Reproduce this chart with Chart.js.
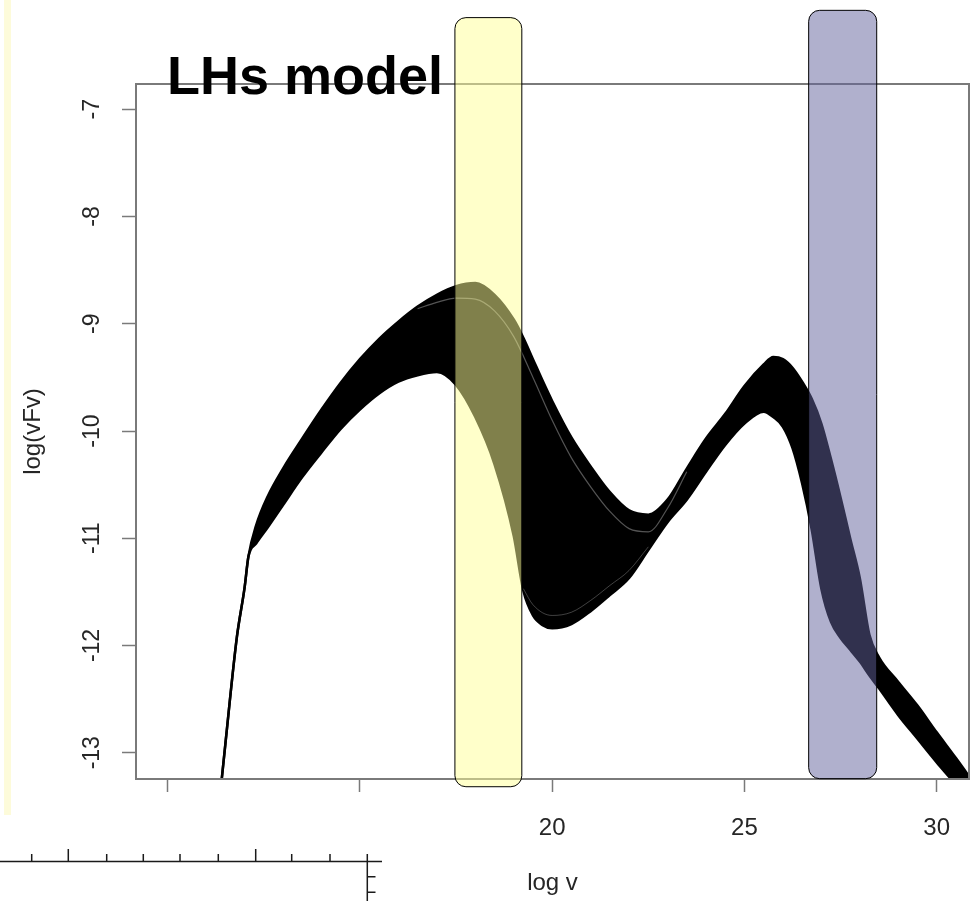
<!DOCTYPE html>
<html>
<head>
<meta charset="utf-8">
<script src="https://cdn.jsdelivr.net/npm/chart.js@4.4.1/dist/chart.umd.min.js"></script>
<style>
  html, body { margin: 0; padding: 0; background: #fff; }
</style>
</head>
<body>
<canvas id="sed" width="976" height="901"></canvas>
<script>
// log nu grid, shared by the upper and lower edge of the model band
var logNu = [11.35, 11.5, 11.8, 12.0, 12.1, 12.3, 12.6, 13.0, 13.5, 14.0, 14.5, 15.0, 15.5, 16.0, 16.5,
  17.0, 17.5, 18.0, 18.5, 19.0, 19.25, 19.5, 19.75, 20.0, 20.5, 21.0, 21.5, 22.0, 22.5, 23.0, 23.5, 24.0, 24.5,
  25.0, 25.5, 25.75, 26.0, 26.25, 26.5, 26.75, 27.0, 27.25, 27.5, 27.75, 28.0, 28.25, 28.5, 29.0, 29.5, 30.0, 30.5, 31.0];

// log(nu F nu), top edge of the bundle of curves
var upperFlux = [-13.44, -12.92, -11.92, -11.46, -11.17, -10.88, -10.61, -10.35, -10.07, -9.80, -9.55, -9.33, -9.14, -8.98, -8.84,
  -8.73, -8.65, -8.62, -8.73, -8.96, -9.13, -9.33, -9.53, -9.72, -10.06, -10.33, -10.57, -10.74, -10.78, -10.64, -10.35, -10.07, -9.84,
  -9.58, -9.38, -9.31, -9.33, -9.41, -9.54, -9.70, -9.93, -10.26, -10.62, -11.00, -11.37, -11.90, -12.11, -12.34, -12.56, -12.81, -13.05, -13.30];

// bottom edge of the bundle
var lowerFlux = [-13.44, -12.92, -11.92, -11.46, -11.17, -11.05, -10.90, -10.69, -10.43, -10.20, -9.98, -9.80, -9.65, -9.54, -9.48,
  -9.45, -9.57, -9.87, -10.31, -10.98, -11.49, -11.72, -11.81, -11.84, -11.80, -11.68, -11.53, -11.37, -11.11, -10.85, -10.64, -10.38, -10.13,
  -9.93, -9.82, -9.87, -9.96, -10.16, -10.49, -10.92, -11.47, -11.78, -11.93, -12.04, -12.15, -12.28, -12.40, -12.65, -12.87, -13.09, -13.30, -13.53];

// two of the single model curves that show as light streaks inside the band
var streakNu = [16.5, 17.0, 17.5, 18.0, 18.5, 19.0, 19.5, 20.0, 20.5, 21.0, 21.5, 22.0, 22.5, 23.0, 23.5];
var streakFlux = [-8.86, -8.80, -8.76, -8.77, -8.88, -9.12, -9.50, -9.90, -10.25, -10.52, -10.75, -10.91, -10.94, -10.72, -10.38];
var streak2Nu = [19.25, 19.5, 20.0, 20.5, 21.0, 21.5, 22.0, 22.5];
var streak2Flux = [-11.47, -11.62, -11.72, -11.69, -11.58, -11.44, -11.30, -11.08];

var xTickValues = [10, 15, 20, 25, 30];
var xTickLabels = ["", "", "20", "25", "30"];
var yTickValues = [-13, -12, -11, -10, -9, -8, -7];
var yTickLabels = ["-13", "-12", "-11", "-10", "-9", "-8", "-7"];

// highlighted frequency windows (log nu from / to, log flux top / bottom)
var bandFrom = [17.47, 26.67];
var bandTo = [19.21, 28.44];
var bandTop = [-6.145, -6.077];
var bandBottom = [-13.317, -13.242];

var plotTitle = "LHs model";

var FONT = '"Liberation Sans", Arial, Helvetica, sans-serif';
var bandFill = ["rgba(255,255,150,0.5)", "rgba(98,98,156,0.5)"];

function toPoints(xs, ys) {
  var pts = [];
  for (var i = 0; i < xs.length; i++) {
    pts.push({ x: xs[i], y: ys[i] });
  }
  return pts;
}

function roundedBox(ctx, x, y, w, h, r) {
  ctx.beginPath();
  ctx.moveTo(x + r, y);
  ctx.lineTo(x + w - r, y);
  ctx.arcTo(x + w, y, x + w, y + r, r);
  ctx.lineTo(x + w, y + h - r);
  ctx.arcTo(x + w, y + h, x + w - r, y + h, r);
  ctx.lineTo(x + r, y + h);
  ctx.arcTo(x, y + h, x, y + h - r, r);
  ctx.lineTo(x, y + r);
  ctx.arcTo(x, y, x + r, y, r);
  ctx.closePath();
}

var decorations = {
  id: "decorations",
  beforeDraw: function (chart) {
    var ctx = chart.ctx;
    ctx.save();
    ctx.fillStyle = "#ffffff";
    ctx.fillRect(0, 0, chart.width, chart.height);
    // pale strip along the left edge of the slide
    ctx.fillStyle = "#fdfbda";
    ctx.fillRect(4, 0, 7, 815);
    ctx.restore();
  },
  afterDraw: function (chart) {
    var ctx = chart.ctx;
    var a = chart.chartArea;
    var xs = chart.scales.x;
    var ys = chart.scales.y;
    ctx.save();

    // box round the plot
    ctx.strokeStyle = "#7a7a7a";
    ctx.lineWidth = 2;
    ctx.strokeRect(a.left, a.top, a.right - a.left, a.bottom - a.top);

    // y tick labels, turned like in R
    ctx.fillStyle = "#262626";
    ctx.font = "23px " + FONT;
    ctx.textAlign = "center";
    ctx.textBaseline = "middle";
    for (var i = 0; i < yTickValues.length; i++) {
      ctx.save();
      ctx.translate(93, ys.getPixelForValue(yTickValues[i]));
      ctx.rotate(-Math.PI / 2);
      ctx.fillText(yTickLabels[i], 0, 0);
      ctx.restore();
    }

    // title pasted over the frame
    ctx.fillStyle = "#000";
    ctx.font = "bold 54px " + FONT;
    ctx.textAlign = "left";
    ctx.textBaseline = "alphabetic";
    ctx.fillText(plotTitle, 167, 94);

    // piece of another plot's axis at the bottom left
    ctx.strokeStyle = "#1a1a1a";
    ctx.lineWidth = 1.5;
    ctx.beginPath();
    ctx.moveTo(0, 861.5);
    ctx.lineTo(382, 861.5);
    [68.3, 255.7].forEach(function (px) {
      ctx.moveTo(px, 849); ctx.lineTo(px, 861.5);
    });
    [31.7, 106.7, 143.3, 180, 218.3, 291.7, 330].forEach(function (px) {
      ctx.moveTo(px, 854); ctx.lineTo(px, 861.5);
    });
    ctx.moveTo(367.3, 854);
    ctx.lineTo(367.3, 901);
    ctx.moveTo(367.3, 876.7); ctx.lineTo(375.5, 876.7);
    ctx.moveTo(367.3, 892.3); ctx.lineTo(375.5, 892.3);
    ctx.stroke();

    // the two highlighted windows
    for (var b = 0; b < bandFrom.length; b++) {
      var x0 = xs.getPixelForValue(bandFrom[b]);
      var x1 = xs.getPixelForValue(bandTo[b]);
      var y0 = ys.getPixelForValue(bandTop[b]);
      var y1 = ys.getPixelForValue(bandBottom[b]);
      roundedBox(ctx, x0, y0, x1 - x0, y1 - y0, 11);
      ctx.fillStyle = bandFill[b];
      ctx.fill();
      ctx.strokeStyle = "#000";
      ctx.lineWidth = 1;
      ctx.stroke();
    }
    ctx.restore();
  }
};

var edgeStyle = {
  borderColor: "#000",
  borderWidth: 2.5,
  pointRadius: 0,
  cubicInterpolationMode: "monotone",
  clip: 0
};

new Chart(document.getElementById("sed"), {
  type: "line",
  data: {
    datasets: [
      Object.assign({}, edgeStyle, {
        label: "upper",
        data: toPoints(logNu, upperFlux),
        backgroundColor: "#000",
        fill: "+1"
      }),
      Object.assign({}, edgeStyle, {
        label: "lower",
        data: toPoints(logNu, lowerFlux),
        fill: false
      }),
      {
        label: "streak",
        order: -1,
        data: toPoints(streakNu, streakFlux),
        borderColor: "rgba(255,255,255,0.33)",
        borderWidth: 1.2,
        pointRadius: 0,
        cubicInterpolationMode: "monotone",
        fill: false
      },
      {
        label: "streak 2",
        order: -1,
        data: toPoints(streak2Nu, streak2Flux),
        borderColor: "rgba(255,255,255,0.25)",
        borderWidth: 1,
        pointRadius: 0,
        cubicInterpolationMode: "monotone",
        fill: false
      }
    ]
  },
  options: {
    responsive: false,
    animation: false,
    devicePixelRatio: 1,
    layout: { padding: { top: 84, right: 7, bottom: 0, left: 0 } },
    plugins: {
      legend: { display: false },
      tooltip: { enabled: false }
    },
    scales: {
      x: {
        type: "linear",
        min: 9.176,
        max: 30.84,
        afterBuildTicks: function (scale) {
          scale.ticks = xTickValues.map(function (v) { return { value: v }; });
        },
        afterFit: function (scale) { scale.height = 122; },
        border: { display: false },
        grid: { drawOnChartArea: false, drawTicks: true, tickLength: 13, tickColor: "#7a7a7a", tickWidth: 1.5 },
        ticks: {
          autoSkip: false,
          maxRotation: 0,
          padding: 22,
          color: "#262626",
          font: { family: FONT, size: 24 },
          callback: function (value, index) { return xTickLabels[index]; }
        },
        title: {
          display: true,
          text: "log v",
          color: "#262626",
          font: { family: FONT, size: 24 },
          padding: { top: 0, bottom: 3 }
        }
      },
      y: {
        type: "linear",
        min: -13.245,
        max: -6.764,
        afterBuildTicks: function (scale) {
          scale.ticks = yTickValues.map(function (v) { return { value: v }; });
        },
        afterFit: function (scale) { scale.width = 136; },
        border: { display: false },
        grid: { drawOnChartArea: false, drawTicks: true, tickLength: 14, tickColor: "#7a7a7a", tickWidth: 1.5 },
        ticks: { display: false },
        title: {
          display: true,
          text: "log(vFv)",
          color: "#262626",
          font: { family: FONT, size: 24 },
          padding: { top: 19, bottom: 0 }
        }
      }
    }
  },
  plugins: [decorations]
});
</script>
</body>
</html>
